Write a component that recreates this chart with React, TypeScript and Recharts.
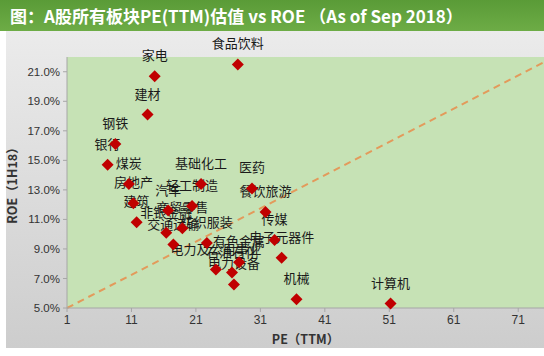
import { CartesianGrid, ReferenceLine, Scatter, ScatterChart, XAxis, YAxis } from 'recharts'

const sectors = [
  '家电', '食品饮料', '建材', '钢铁', '银行', '煤炭', '房地产', '基础化工', '医药',
  '轻工制造', '汽车', '餐饮旅游', '建筑', '非银金融', '商贸零售', '交通运输', '纺织服装',
  '传媒', '电子元器件', '有色金属', '电力及公用事业', '石油石化', '电力设备', '机械', '计算机',
]
const pe = [
  14.6, 27.5, 13.5, 8.5, 7.3, 10.6, 11.3, 21.8, 29.7,
  20.4, 16.7, 31.8, 11.8, 16.4, 18.9, 17.5, 22.7,
  33.2, 34.3, 27.7, 24.1, 26.6, 26.9, 36.6, 51.2,
]
const roe = [
  20.7, 21.5, 18.1, 16.1, 14.7, 13.4, 12.1, 13.4, 13.1,
  11.9, 11.6, 11.5, 10.8, 10.1, 10.4, 9.3, 9.4,
  9.6, 8.4, 8.1, 7.6, 7.4, 6.6, 5.6, 5.3,
]
const peTicks = [1, 11, 21, 31, 41, 51, 61, 71]
const roeTicks = [5, 7, 9, 11, 13, 15, 17, 19, 21]
const trendLine = [
  { x: 1, y: 5 },
  { x: 75, y: 21.65 },
]

const points = sectors.map((name, i) => ({ name, pe: pe[i], roe: roe[i] }))

const tickFont = { fontSize: 11.5, fill: '#333', fontFamily: 'Liberation Sans, Arial, sans-serif' }

function Diamond(props: any) {
  const { cx, cy } = props
  const r = 6
  return <polygon points={`${cx},${cy - r} ${cx + r},${cy} ${cx},${cy + r} ${cx - r},${cy}`} fill="#c00000" />
}

function SectorLabel(props: any) {
  const { cx, cy, payload } = props
  return (
    <text x={cx} y={cy - 16} textAnchor="middle" fontSize={13} fill="#1a1a1a" fontFamily="Noto Sans CJK SC, sans-serif">
      {payload.name}
    </text>
  )
}

export default function App() {
  return (
    <div style={{ position: 'absolute', left: 0, top: 0, width: 544, height: 356, background: '#fff', overflow: 'hidden' }}>
      <div
        style={{
          position: 'absolute', left: 0, top: 0, width: 544, height: 31,
          background: 'linear-gradient(#5a9b37, #6dac46)',
          color: '#fff', fontWeight: 'bold', fontSize: 17, lineHeight: '31px', paddingLeft: 10,
          fontFamily: 'Noto Sans CJK SC, sans-serif', boxSizing: 'border-box', whiteSpace: 'nowrap',
        }}
      >
        图：A股所有板块PE(TTM)估值 vs ROE （As of Sep 2018）
      </div>
      <div style={{ position: 'absolute', left: 6, top: 31, width: 538, height: 317, background: 'linear-gradient(#ebebeb, #cdcdcd)' }} />
      <div style={{ position: 'absolute', left: 0, top: 0 }}>
        <ScatterChart width={544} height={356} margin={{ top: 57, right: 0, bottom: 0, left: 0 }}>
          <CartesianGrid horizontal={false} vertical={false} fill="#c6e2b5" fillOpacity={1} />
          <XAxis
            type="number" dataKey="pe" domain={[1, 75]} ticks={peTicks} interval={0}
            height={48} tick={{ ...tickFont, fontSize: 12 }} tickSize={4} tickMargin={3}
            stroke="#a6a6a6"
            label={{ value: 'PE（TTM）', position: 'insideBottom', offset: 12, fontSize: 12.5, fontWeight: 'bold', fill: '#333', fontFamily: 'Noto Sans CJK SC, sans-serif' }}
          />
          <YAxis
            type="number" dataKey="roe" domain={[5, 22]} ticks={roeTicks} interval={0}
            width={67} tick={tickFont} tickSize={4} tickMargin={3} stroke="#a6a6a6"
            tickFormatter={(v: number) => v.toFixed(1) + '%'}
            label={{ value: 'ROE（1H18）', angle: -90, position: 'insideLeft', offset: 13, fontSize: 12.5, fontWeight: 'bold', fill: '#333', fontFamily: 'Noto Sans CJK SC, sans-serif', style: { textAnchor: 'middle' } }}
          />
          <ReferenceLine segment={trendLine} stroke="#e39a5b" strokeWidth={2} strokeDasharray="7 5" />
          <Scatter data={points} shape={SectorLabel} isAnimationActive={false} />
          <Scatter data={points} shape={Diamond} isAnimationActive={false} />
        </ScatterChart>
      </div>
    </div>
  )
}
